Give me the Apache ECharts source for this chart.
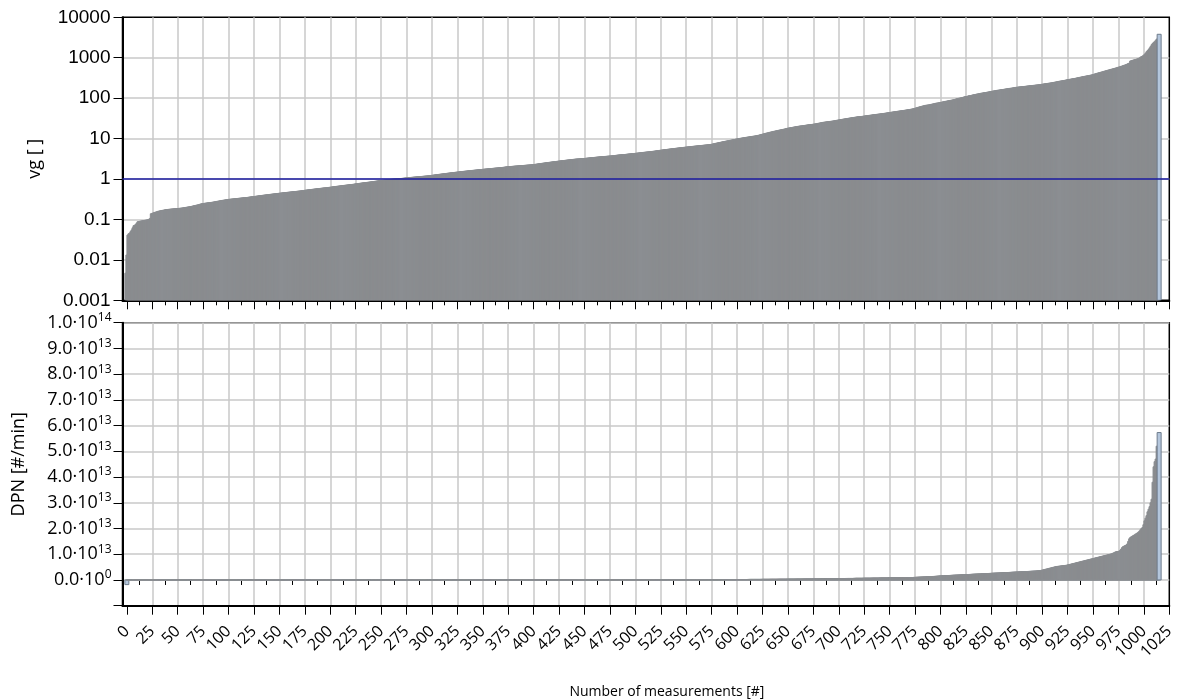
<!DOCTYPE html>
<html>
<head>
<meta charset="utf-8">
<script src="https://cdn.jsdelivr.net/npm/echarts@6/dist/echarts.min.js"></script>
<style>
  html, body { margin: 0; padding: 0; background: #ffffff; }
  #chart { width: 1186px; height: 700px; }
</style>
</head>
<body>
<div id="chart"></div>
<script>
// Measurements sorted by vg; one bar per measurement number (0 .. 1015).
const vg = [
  0.0047,0.0132,0.041,0.044,0.046,0.05,0.055,0.062,0.07,0.072,0.075,0.082,0.088,0.089,0.09,0.091,0.092,0.093,0.094,0.095,0.096,0.097,0.098,0.1,0.106,
  0.138,0.141,0.144,0.147,0.15,0.153,0.156,0.159,0.161,0.163,0.165,0.167,0.169,0.171,0.173,0.175,0.176,0.177,0.178,0.179,0.18,0.181,0.182,0.183,0.184,
  0.185,0.186,0.187,0.188,0.189,0.19,0.192,0.194,0.196,0.198,0.2,0.202,0.204,0.206,0.208,0.211,0.214,0.217,0.22,0.223,0.226,0.229,0.233,0.237,0.241,
  0.245,0.247,0.249,0.251,0.253,0.255,0.257,0.259,0.261,0.263,0.265,0.268,0.271,0.274,0.277,0.28,0.283,0.286,0.289,0.292,0.295,0.298,0.301,0.304,0.307,
  0.31,0.312,0.314,0.316,0.318,0.32,0.322,0.324,0.326,0.328,0.33,0.332,0.334,0.336,0.338,0.34,0.342,0.344,0.346,0.348,0.351,0.354,0.357,0.36,0.363,
  0.365,0.368,0.371,0.374,0.377,0.38,0.383,0.386,0.389,0.392,0.395,0.398,0.401,0.404,0.407,0.41,0.413,0.416,0.419,0.422,0.425,0.428,0.431,0.434,0.437,
  0.44,0.443,0.446,0.449,0.452,0.455,0.458,0.461,0.464,0.467,0.47,0.473,0.476,0.479,0.482,0.485,0.488,0.491,0.494,0.497,0.5,0.503,0.507,0.511,0.515,
  0.52,0.524,0.528,0.532,0.536,0.54,0.544,0.548,0.552,0.556,0.56,0.564,0.568,0.572,0.576,0.58,0.584,0.588,0.592,0.596,0.6,0.603,0.606,0.609,0.613,
  0.62,0.625,0.63,0.635,0.64,0.645,0.65,0.655,0.66,0.665,0.67,0.675,0.68,0.685,0.69,0.695,0.7,0.705,0.71,0.715,0.72,0.725,0.73,0.735,0.74,
  0.75,0.756,0.762,0.768,0.774,0.78,0.786,0.792,0.798,0.804,0.81,0.816,0.822,0.828,0.834,0.84,0.847,0.854,0.861,0.868,0.875,0.882,0.89,0.898,0.906,
  0.915,0.92,0.925,0.93,0.936,0.942,0.948,0.954,0.96,0.966,0.972,0.978,0.984,0.99,0.996,1.0,1.005,1.01,1.015,1.02,1.025,1.03,1.037,1.044,1.051,
  1.06,1.066,1.072,1.078,1.084,1.09,1.096,1.102,1.108,1.114,1.12,1.126,1.132,1.138,1.144,1.15,1.156,1.162,1.168,1.174,1.18,1.187,1.194,1.201,1.208,
  1.22,1.23,1.24,1.25,1.26,1.27,1.28,1.29,1.3,1.31,1.32,1.33,1.34,1.35,1.36,1.37,1.38,1.39,1.4,1.41,1.42,1.43,1.44,1.45,1.46,
  1.47,1.48,1.49,1.5,1.51,1.52,1.53,1.54,1.55,1.56,1.57,1.58,1.59,1.6,1.61,1.62,1.63,1.64,1.65,1.66,1.67,1.68,1.69,1.7,1.71,
  1.72,1.73,1.74,1.75,1.76,1.77,1.78,1.79,1.8,1.81,1.82,1.83,1.84,1.85,1.86,1.87,1.88,1.89,1.9,1.91,1.92,1.94,1.95,1.97,1.99,
  2.0,2.01,2.02,2.03,2.04,2.05,2.06,2.07,2.08,2.09,2.1,2.11,2.12,2.13,2.14,2.15,2.16,2.17,2.18,2.19,2.2,2.21,2.22,2.23,2.24,
  2.25,2.27,2.29,2.31,2.33,2.35,2.37,2.39,2.41,2.43,2.45,2.47,2.49,2.51,2.53,2.55,2.57,2.59,2.61,2.63,2.65,2.67,2.69,2.71,2.73,
  2.75,2.77,2.79,2.81,2.83,2.85,2.87,2.89,2.91,2.93,2.95,2.97,2.99,3.01,3.03,3.05,3.07,3.09,3.11,3.12,3.13,3.14,3.15,3.17,3.19,
  3.2,3.22,3.24,3.26,3.28,3.3,3.32,3.34,3.36,3.38,3.4,3.42,3.44,3.46,3.48,3.5,3.52,3.54,3.56,3.58,3.6,3.61,3.62,3.64,3.66,
  3.67,3.69,3.71,3.73,3.75,3.78,3.81,3.84,3.87,3.9,3.92,3.94,3.96,3.98,4.0,4.02,4.04,4.07,4.1,4.13,4.16,4.18,4.2,4.22,4.25,
  4.27,4.3,4.33,4.36,4.39,4.42,4.45,4.48,4.51,4.54,4.57,4.6,4.63,4.66,4.69,4.72,4.75,4.78,4.81,4.85,4.89,4.93,4.97,5.01,5.05,
  5.1,5.14,5.18,5.22,5.26,5.3,5.34,5.38,5.42,5.46,5.5,5.54,5.58,5.62,5.66,5.7,5.74,5.78,5.82,5.86,5.9,5.94,5.98,6.02,6.06,
  6.1,6.14,6.18,6.22,6.26,6.3,6.34,6.38,6.42,6.46,6.5,6.54,6.58,6.62,6.66,6.7,6.74,6.78,6.82,6.86,6.9,6.94,6.98,7.02,7.06,
  7.1,7.2,7.3,7.4,7.5,7.6,7.7,7.8,7.9,8.0,8.1,8.2,8.3,8.4,8.5,8.6,8.7,8.8,8.9,9.0,9.1,9.2,9.3,9.4,9.5,
  9.7,9.8,9.9,10.0,10.1,10.2,10.3,10.4,10.5,10.6,10.7,10.8,10.9,11.0,11.1,11.2,11.3,11.4,11.5,11.6,11.7,11.8,12.0,12.2,12.4,
  12.6,12.8,13.0,13.2,13.4,13.6,13.8,14.0,14.2,14.4,14.6,14.8,15.0,15.2,15.4,15.6,15.8,16.0,16.2,16.4,16.6,16.8,17.0,17.2,17.5,
  17.8,18.0,18.2,18.4,18.6,18.8,19.0,19.2,19.4,19.6,19.8,20.0,20.2,20.4,20.5,20.6,20.8,21.0,21.2,21.4,21.6,21.8,22.0,22.1,22.2,
  22.4,22.6,22.8,23.0,23.2,23.5,23.8,24.1,24.4,24.7,25.0,25.2,25.4,25.6,25.8,26.0,26.2,26.4,26.6,26.8,27.0,27.3,27.6,27.9,28.2,
  28.5,28.8,29.1,29.4,29.7,30.0,30.3,30.6,30.9,31.2,31.5,31.8,32.1,32.4,32.7,33.0,33.3,33.6,33.9,34.2,34.5,34.7,34.9,35.1,35.3,
  35.6,35.9,36.2,36.5,36.8,37.1,37.4,37.7,38.0,38.3,38.6,38.9,39.2,39.5,39.8,40.1,40.4,40.7,41.0,41.3,41.6,42.0,42.4,42.8,43.2,
  43.6,44.0,44.4,44.8,45.2,45.6,46.0,46.4,46.8,47.2,47.6,48.0,48.4,48.8,49.2,49.6,50.0,50.5,51.0,51.5,52.0,52.5,53.0,53.5,54.3,
  55,56,57,58,59,60,61,62,63,64,65,66,66.5,67,67.5,68,69,70,71,72,73,74,75,75.5,76,
  77,78,79,80,81,82,83,84,85,86,87,88,89,90,91,92,94,96,98,99,100,101,102,104,106,
  108,109,110,112,114,115,116,118,120,121,122,124,126,127,128,130,132,133,134,136,137,138,140,141,143,
  145,146,148,150,151,152,154,156,157,158,160,162,163,164,166,168,169,170,172,174,175,176,178,180,182,
  184,185,186,188,189,190,191,193,194,195,196,198,199,200,202,203,204,206,207,208,210,211,212,214,216,
  218,220,222,224,226,228,230,232,234,236,238,240,243,246,249,252,255,258,261,264,266,268,271,274,278,
  282,285,288,291,294,297,300,303,306,310,314,318,322,326,330,334,338,342,346,350,354,358,362,366,370,
  375,382,389,396,403,410,417,424,431,438,445,452,460,468,476,484,492,500,508,516,524,532,540,550,560,
  570,580,590,600,612,625,638,650,665,680,700,720,740,830,845,860,875,890,905,920,940,960,990,1030,1070,
  1100,1150,1200,1300,1410,1500,1600,1750,1900,2100,2250,2400,2500,2700,2900,3800
];

// DPN per measurement, in units of 1e12 #/min (same order as vg).
const DPN_UNIT = 1e12;
const dpnE12 = [
  -1.8,0.001,0.001,0.001,0.001,0.001,0.001,0.001,0.001,0.002,0.002,0.002,0.002,0.002,0.002,0.002,0.002,0.002,0.002,0.002,0.002,0.002,0.002,0.002,0.002,
  0.002,0.002,0.002,0.002,0.002,0.003,0.003,0.003,0.003,0.003,0.003,0.003,0.003,0.003,0.003,0.003,0.003,0.003,0.003,0.003,0.003,0.003,0.003,0.003,0.003,
  0.003,0.003,0.003,0.003,0.003,0.003,0.003,0.003,0.003,0.003,0.004,0.004,0.004,0.004,0.004,0.004,0.004,0.004,0.004,0.004,0.004,0.004,0.004,0.004,0.004,
  0.004,0.004,0.004,0.004,0.004,0.004,0.004,0.004,0.004,0.004,0.005,0.005,0.005,0.005,0.005,0.005,0.005,0.005,0.005,0.005,0.005,0.005,0.005,0.005,0.005,
  0.005,0.005,0.005,0.005,0.005,0.005,0.005,0.005,0.005,0.005,0.006,0.006,0.006,0.006,0.006,0.006,0.006,0.006,0.006,0.006,0.006,0.006,0.006,0.006,0.006,
  0.006,0.006,0.006,0.006,0.006,0.006,0.006,0.006,0.006,0.006,0.007,0.007,0.007,0.007,0.007,0.007,0.007,0.007,0.007,0.007,0.007,0.007,0.007,0.007,0.007,
  0.008,0.008,0.008,0.008,0.008,0.008,0.008,0.008,0.008,0.008,0.008,0.008,0.009,0.009,0.009,0.009,0.009,0.009,0.009,0.009,0.009,0.009,0.009,0.009,0.009,
  0.01,0.01,0.01,0.01,0.01,0.01,0.01,0.01,0.01,0.01,0.01,0.01,0.011,0.011,0.011,0.011,0.011,0.011,0.011,0.011,0.011,0.011,0.011,0.011,0.011,
  0.012,0.012,0.012,0.012,0.012,0.012,0.012,0.012,0.012,0.012,0.012,0.012,0.013,0.013,0.013,0.013,0.013,0.013,0.013,0.013,0.013,0.013,0.013,0.013,0.013,
  0.014,0.014,0.014,0.014,0.014,0.014,0.014,0.014,0.014,0.014,0.014,0.014,0.016,0.016,0.016,0.016,0.016,0.016,0.016,0.016,0.016,0.016,0.016,0.016,0.016,
  0.017,0.017,0.017,0.017,0.017,0.017,0.017,0.017,0.017,0.017,0.017,0.017,0.019,0.019,0.019,0.019,0.019,0.019,0.019,0.019,0.019,0.019,0.019,0.019,0.019,
  0.021,0.021,0.021,0.021,0.021,0.021,0.021,0.021,0.021,0.021,0.021,0.021,0.023,0.023,0.023,0.023,0.023,0.023,0.023,0.023,0.023,0.023,0.023,0.023,0.023,
  0.025,0.025,0.025,0.025,0.025,0.025,0.025,0.025,0.025,0.025,0.025,0.025,0.027,0.027,0.027,0.027,0.027,0.027,0.027,0.027,0.027,0.027,0.027,0.027,0.027,
  0.029,0.029,0.029,0.029,0.029,0.029,0.029,0.029,0.029,0.029,0.029,0.029,0.032,0.032,0.032,0.032,0.032,0.032,0.032,0.032,0.032,0.032,0.032,0.032,0.032,
  0.034,0.034,0.034,0.034,0.034,0.034,0.034,0.034,0.034,0.034,0.034,0.034,0.037,0.037,0.037,0.037,0.037,0.037,0.037,0.037,0.037,0.037,0.037,0.037,0.037,
  0.039,0.039,0.039,0.039,0.039,0.039,0.039,0.039,0.039,0.039,0.039,0.039,0.042,0.042,0.042,0.042,0.042,0.042,0.042,0.042,0.042,0.042,0.042,0.042,0.042,
  0.045,0.045,0.045,0.045,0.045,0.045,0.045,0.045,0.045,0.045,0.045,0.045,0.049,0.049,0.049,0.049,0.049,0.049,0.049,0.049,0.049,0.049,0.049,0.049,0.049,
  0.053,0.053,0.053,0.053,0.053,0.053,0.053,0.053,0.053,0.053,0.053,0.053,0.058,0.058,0.058,0.058,0.058,0.058,0.058,0.058,0.058,0.058,0.058,0.058,0.058,
  0.062,0.062,0.062,0.062,0.062,0.062,0.062,0.062,0.062,0.062,0.062,0.062,0.068,0.068,0.068,0.068,0.068,0.068,0.068,0.068,0.068,0.068,0.068,0.068,0.068,
  0.073,0.073,0.073,0.073,0.073,0.073,0.073,0.073,0.073,0.073,0.073,0.073,0.079,0.079,0.079,0.079,0.079,0.079,0.079,0.079,0.079,0.079,0.079,0.079,0.079,
  0.085,0.085,0.085,0.085,0.085,0.085,0.085,0.085,0.085,0.085,0.085,0.085,0.092,0.092,0.092,0.092,0.092,0.092,0.092,0.092,0.092,0.092,0.092,0.092,0.092,
  0.1,0.1,0.1,0.1,0.1,0.1,0.1,0.1,0.1,0.1,0.1,0.1,0.11,0.11,0.11,0.11,0.11,0.11,0.11,0.11,0.11,0.11,0.11,0.11,0.11,
  0.12,0.12,0.12,0.12,0.12,0.12,0.12,0.12,0.12,0.12,0.12,0.12,0.13,0.13,0.13,0.13,0.13,0.13,0.13,0.13,0.13,0.13,0.13,0.13,0.13,
  0.14,0.14,0.14,0.14,0.14,0.14,0.14,0.14,0.14,0.14,0.14,0.14,0.16,0.16,0.16,0.16,0.16,0.16,0.16,0.16,0.16,0.16,0.16,0.16,0.16,
  0.18,0.18,0.18,0.18,0.18,0.18,0.18,0.18,0.18,0.18,0.18,0.18,0.21,0.21,0.21,0.21,0.21,0.21,0.21,0.21,0.21,0.21,0.21,0.21,0.21,
  0.24,0.24,0.24,0.24,0.24,0.24,0.24,0.24,0.26,0.26,0.26,0.26,0.26,0.26,0.26,0.26,0.29,0.29,0.29,0.29,0.29,0.29,0.29,0.29,0.29,
  0.32,0.32,0.32,0.32,0.32,0.32,0.32,0.32,0.35,0.35,0.35,0.35,0.35,0.35,0.35,0.35,0.39,0.39,0.39,0.39,0.39,0.39,0.39,0.39,0.39,
  0.42,0.42,0.42,0.42,0.42,0.42,0.42,0.42,0.46,0.46,0.46,0.46,0.46,0.46,0.46,0.46,0.5,0.5,0.5,0.5,0.5,0.5,0.5,0.5,0.5,
  0.54,0.54,0.54,0.54,0.54,0.54,0.54,0.54,0.58,0.58,0.58,0.58,0.58,0.58,0.58,0.58,0.63,0.63,0.63,0.63,0.63,0.63,0.63,0.63,0.63,
  0.67,0.67,0.67,0.67,0.67,0.67,0.67,0.67,0.72,0.72,0.72,0.72,0.72,0.72,0.72,0.72,0.78,0.78,0.78,0.78,0.78,0.78,0.78,0.78,0.78,
  0.83,0.83,0.83,0.83,0.83,0.83,0.83,0.83,0.89,0.89,0.89,0.89,0.89,0.89,0.89,0.89,0.95,0.95,0.95,0.95,0.95,0.95,0.95,0.95,0.95,
  1.0,1.0,1.02,1.04,1.06,1.08,1.1,1.12,1.14,1.16,1.18,1.2,1.22,1.24,1.26,1.28,1.3,1.32,1.34,1.36,1.38,1.4,1.43,1.46,1.5,
  1.55,1.57,1.59,1.61,1.63,1.65,1.67,1.69,1.71,1.73,1.75,1.77,1.79,1.81,1.83,1.85,1.87,1.89,1.91,1.93,1.95,1.97,1.99,2.01,2.03,
  2.05,2.07,2.09,2.11,2.13,2.15,2.17,2.19,2.21,2.23,2.25,2.27,2.29,2.31,2.33,2.35,2.37,2.39,2.41,2.43,2.45,2.47,2.49,2.51,2.53,
  2.55,2.57,2.59,2.61,2.63,2.65,2.67,2.69,2.71,2.73,2.75,2.77,2.79,2.81,2.83,2.85,2.87,2.89,2.91,2.93,2.95,2.97,2.99,3.01,3.03,
  3.05,3.08,3.1,3.12,3.14,3.16,3.18,3.2,3.22,3.24,3.26,3.28,3.3,3.32,3.34,3.36,3.38,3.4,3.42,3.44,3.46,3.5,3.55,3.6,3.65,
  3.7,3.8,3.9,4.0,4.1,4.2,4.3,4.4,4.5,4.6,4.7,4.8,4.9,5.0,5.1,5.2,5.25,5.3,5.35,5.4,5.45,5.5,5.55,5.6,5.65,
  5.7,5.8,5.9,6.0,6.1,6.2,6.3,6.4,6.5,6.6,6.7,6.8,6.9,7.0,7.1,7.2,7.3,7.4,7.5,7.6,7.7,7.8,7.9,8.0,8.1,
  8.2,8.3,8.4,8.5,8.6,8.7,8.8,8.9,9.0,9.1,9.2,9.3,9.4,9.5,9.6,9.7,9.8,9.9,10.0,10.1,10.2,10.4,10.6,10.8,11.0,
  11.0,11.1,11.2,11.5,12.0,12.6,13.0,13.2,13.4,13.6,14.0,15.0,16.0,16.5,16.8,17.0,17.3,17.5,17.8,18.0,18.3,18.6,19.0,19.5,20.0,
  20.4,21.5,23,24,25,26.5,27.5,28.5,30,31.4,38,44,46,47,52,57.3
];

// Axis ticks
const xTickValues = [0,25,50,75,100,125,150,175,200,225,250,275,300,325,350,375,400,425,450,475,500,
  525,550,575,600,625,650,675,700,725,750,775,800,825,850,875,900,925,950,975,1000,1025];
const vgReference = 1;

if (vg.length !== dpnE12.length) {
  throw new Error('length mismatch: vg ' + vg.length + ' dpn ' + dpnE12.length);
}

const X_MIN = -4.3, X_MAX = 1025;
const BAR_W = 4;
const GRID_COLOR = '#c8c8c8';
const SANS = '"Open Sans", "Noto Sans", sans-serif';
const LAST = vg.length - 1;

const xMinorValues = xTickValues.slice(1).map((t, i) => (t + xTickValues[i]) / 2);
const vgData = vg.map((v, i) => [i, v]);
const dpnData = dpnE12.map((v, i) => [i, v * DPN_UNIT]);

// Bars overlap; each one is drawn over its left neighbour. Only the bar that
// sticks out (the last one, or one below the baseline) shows its pale fill.
function barRenderer(baseValue) {
  return function (params, api) {
    const x = api.value(0);
    const v = api.value(1);
    const top = api.coord([x, v]);
    const base = api.coord([x, baseValue]);
    const exposed = params.dataIndex === LAST || v < baseValue;
    return {
      type: 'rect',
      shape: {
        x: top[0] - BAR_W / 2,
        y: Math.min(top[1], base[1]),
        width: BAR_W,
        height: Math.abs(base[1] - top[1])
      },
      style: exposed
        ? { fill: '#b4c6dc', stroke: '#6e7c8c', lineWidth: 1 }
        : { fill: '#878787', stroke: '#8b8e92', lineWidth: 1 }
    };
  };
}

function majorXAxis(gridIndex, withLabels) {
  return {
    gridIndex: gridIndex, type: 'value', position: 'bottom', min: X_MIN, max: X_MAX,
    axisLine: { show: true, onZero: false, lineStyle: { color: '#000', width: 2 } },
    axisTick: { show: true, customValues: xTickValues, length: 9, lineStyle: { color: '#000', width: 1 } },
    axisLabel: {
      show: withLabels, customValues: xTickValues, rotate: 45, margin: 23,
      fontFamily: SANS, fontSize: 16, color: '#000',
      formatter: v => String(v)
    },
    splitLine: { show: true, showMinLine: false, showMaxLine: false, lineStyle: { color: GRID_COLOR, width: 1.5 } },
    name: withLabels ? 'Number of measurements [#]' : '',
    nameLocation: 'middle', nameGap: 79,
    nameTextStyle: { fontFamily: SANS, fontSize: 14, color: '#000', padding: [0, 0, 0, 42] }
  };
}

function minorXAxis(gridIndex) {
  return {
    gridIndex: gridIndex, type: 'value', position: 'bottom', min: X_MIN, max: X_MAX,
    axisLine: { show: false },
    axisTick: { show: true, customValues: xMinorValues, length: 5, lineStyle: { color: '#000', width: 1 } },
    axisLabel: { show: false },
    splitLine: { show: false }
  };
}

function dpnLabel(v) {
  if (v < 0) return '';
  if (v === 0) return '{m|0.0·10}{e|0}';
  const exp = Math.floor(Math.log10(v) + 1e-9);
  const mant = v / Math.pow(10, exp);
  return '{m|' + mant.toFixed(1) + '·10}{e|' + exp + '}';
}

const chart = echarts.init(document.getElementById('chart'), null, { renderer: 'canvas' });
chart.setOption({
  backgroundColor: '#ffffff',
  animation: false,
  grid: [
    { left: 122.5, top: 17.3, width: 1046.8, height: 283, show: true, borderColor: '#000', borderWidth: 1.5 },
    { left: 122.5, top: 322.7, width: 1046.8, height: 283, show: true, borderColor: '#000', borderWidth: 1.5 }
  ],
  xAxis: [majorXAxis(0, false), minorXAxis(0), majorXAxis(1, true), minorXAxis(1)],
  yAxis: [
    {
      gridIndex: 0, type: 'log', logBase: 10, min: 0.001, max: 10000,
      axisLine: { show: true, onZero: false, lineStyle: { color: '#000', width: 2 } },
      axisTick: { show: true, length: 9, lineStyle: { color: '#000', width: 1 } },
      axisLabel: {
        margin: 12, fontFamily: '"Liberation Sans", Arial, sans-serif', fontSize: 19, color: '#000',
        formatter: v => String(+Number(v).toPrecision(1))
      },
      splitLine: { show: true, showMinLine: false, showMaxLine: false, lineStyle: { color: GRID_COLOR, width: 1.5 } },
      name: 'vg [ ]', nameLocation: 'middle', nameGap: 79, nameRotate: 90,
      nameTextStyle: { fontFamily: SANS, fontSize: 18, color: '#000' }
    },
    {
      gridIndex: 1, type: 'value', min: -1e13, max: 1e14, interval: 1e13,
      axisLine: { show: true, onZero: false, lineStyle: { color: '#000', width: 2 } },
      axisTick: { show: true, length: 9, lineStyle: { color: '#000', width: 1 } },
      axisLabel: {
        margin: 11, formatter: dpnLabel,
        rich: {
          m: { fontFamily: SANS, fontSize: 18, color: '#000', lineHeight: 22 },
          e: { fontFamily: SANS, fontSize: 12, color: '#000', verticalAlign: 'top', lineHeight: 14 }
        }
      },
      splitLine: { show: true, showMinLine: false, lineStyle: { color: GRID_COLOR, width: 1.5 } },
      name: 'DPN [#/min]', nameLocation: 'middle', nameGap: 95, nameRotate: 90,
      nameTextStyle: { fontFamily: SANS, fontSize: 18, color: '#000' }
    }
  ],
  series: [
    {
      name: 'vg', type: 'custom', xAxisIndex: 0, yAxisIndex: 0,
      renderItem: barRenderer(0.001), encode: { x: 0, y: 1 }, data: vgData,
      clip: true, silent: true, progressive: 0,
      markLine: {
        silent: true, symbol: ['none', 'none'], label: { show: false },
        lineStyle: { color: '#1a1aa0', width: 1.5, type: 'solid' },
        data: [{ yAxis: vgReference }]
      }
    },
    {
      name: 'DPN', type: 'custom', xAxisIndex: 2, yAxisIndex: 1,
      renderItem: barRenderer(0), encode: { x: 0, y: 1 }, data: dpnData,
      clip: true, silent: true, progressive: 0
    }
  ]
});
</script>
</body>
</html>
